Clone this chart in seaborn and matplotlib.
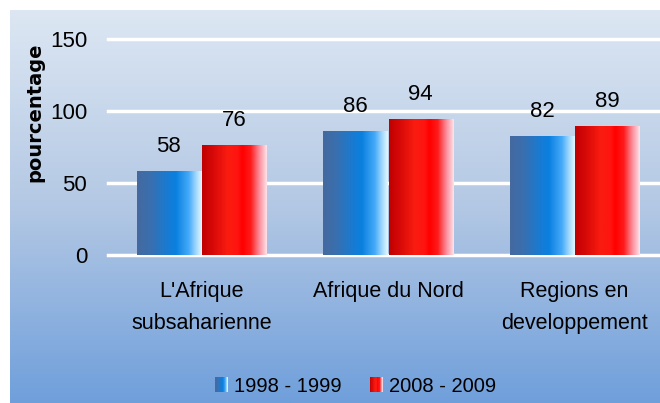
import numpy as np
import pandas as pd
import seaborn as sns
import matplotlib.pyplot as plt
from matplotlib.colors import LinearSegmentedColormap
from matplotlib.patches import Patch, Rectangle
from matplotlib.legend_handler import HandlerBase

# data
regions = ["L'Afrique\nsubsaharienne", "Afrique du Nord", "Regions en\ndeveloppement"]
periods = ["1998 - 1999", "2008 - 2009"]
vals_1998 = [58, 86, 82]
vals_2008 = [76, 94, 89]
yticks = [0, 50, 100, 150]

df = pd.DataFrame({
    "region": regions * 2,
    "period": [periods[0]] * 3 + [periods[1]] * 3,
    "value": vals_1998 + vals_2008,
})

font = "Liberation Sans"

blue_cmap = LinearSegmentedColormap.from_list("b", [
    (0, "#45699f"), (0.2, "#3a6fae"), (0.45, "#1a7ad0"), (0.6, "#0a80e0"),
    (0.8, "#45aaf8"), (0.92, "#a8dcff"), (1, "#e4f6ff")])
red_cmap = LinearSegmentedColormap.from_list("r", [
    (0, "#c00000"), (0.15, "#d40808"), (0.4, "#fa1c10"), (0.55, "#ff1410"),
    (0.62, "#ff0000"), (0.75, "#ff1a1a"), (0.88, "#ff8a98"), (1, "#ffe4ea")])
bg_cmap = LinearSegmentedColormap.from_list("bg", ["#dde7f3", "#b3c8e4", "#6f9fdb"])

fig = plt.figure(figsize=(6.6, 4.03), dpi=100)

# gradient panel behind everything
bg = fig.add_axes([10 / 660, 0, 650 / 660, 393 / 403], zorder=-1)
bg.imshow(np.linspace(0, 1, 256).reshape(-1, 1), cmap=bg_cmap, aspect="auto",
          extent=[0, 1, 0, 1])
bg.axis("off")

ax = fig.add_axes([108 / 660, 148 / 403, 560 / 660, 216 / 403])
ax.patch.set_alpha(0)

sns.barplot(data=df, x="region", y="value", hue="period",
            palette=["#1a7ad0", "#ff1410"], width=0.7, gap=0.02,
            legend=False, ax=ax)

# swap flat fills for horizontal gradients
cmaps = [blue_cmap, red_cmap]
grad = np.linspace(0, 1, 256).reshape(1, -1)
for cont, cm in zip(ax.containers, cmaps):
    for p in cont.patches:
        x0, w, h = p.get_x(), p.get_width(), p.get_height()
        ax.imshow(grad, cmap=cm, aspect="auto", extent=[x0, x0 + w, 0, h],
                  zorder=2, interpolation="bilinear")
        p.set_facecolor("none")
        p.set_edgecolor("none")
    ax.bar_label(cont, padding=10.5, fontsize=16, family=font)

ax.set_xlim(-0.5, 2.5)
ax.set_ylim(0, 150)
ax.set_yticks(yticks)
ax.set_axisbelow(True)
ax.yaxis.grid(True, color="white", lw=2.5)
for line in ax.get_ygridlines():
    line.set_clip_on(False)
for s in ax.spines.values():
    s.set_visible(False)
ax.tick_params(axis="y", length=0, pad=15, labelsize=16)
ax.tick_params(axis="x", length=0, pad=19, labelsize=15.5)
for lab in ax.get_xticklabels() + ax.get_yticklabels():
    lab.set_family(font)
for lab in ax.get_xticklabels():
    lab.set_linespacing(1.65)
ax.set_xlabel("")
ax.set_ylabel("")

fig.text(35 / 660, 1 - 112 / 403, "pourcentage", rotation=90, ha="center",
         va="center", fontsize=14, weight="bold", family="DejaVu Sans")


class GradientHandler(HandlerBase):
    def __init__(self, cmap):
        super().__init__()
        self.cmap = cmap

    def create_artists(self, legend, orig_handle, xdescent, ydescent,
                       width, height, fontsize, trans):
        n = 24
        arts = []
        for i in range(n):
            arts.append(Rectangle((-xdescent + width * i / n, -ydescent),
                                  width / n * 1.05, height,
                                  facecolor=self.cmap((i + 0.5) / n),
                                  edgecolor="none", transform=trans))
        return arts


h1 = Patch(label=periods[0])
h2 = Patch(label=periods[1])
fig.legend(handles=[h1, h2], loc="center", ncol=2, frameon=False,
           bbox_to_anchor=(355.5 / 660, 1 - 386 / 403),
           prop={"family": font, "size": 14.5},
           handlelength=0.64, handleheight=0.8, handletextpad=0.3,
           columnspacing=1.4, borderpad=0,
           handler_map={h1: GradientHandler(blue_cmap), h2: GradientHandler(red_cmap)})

fig.savefig("out.png", dpi=100)
